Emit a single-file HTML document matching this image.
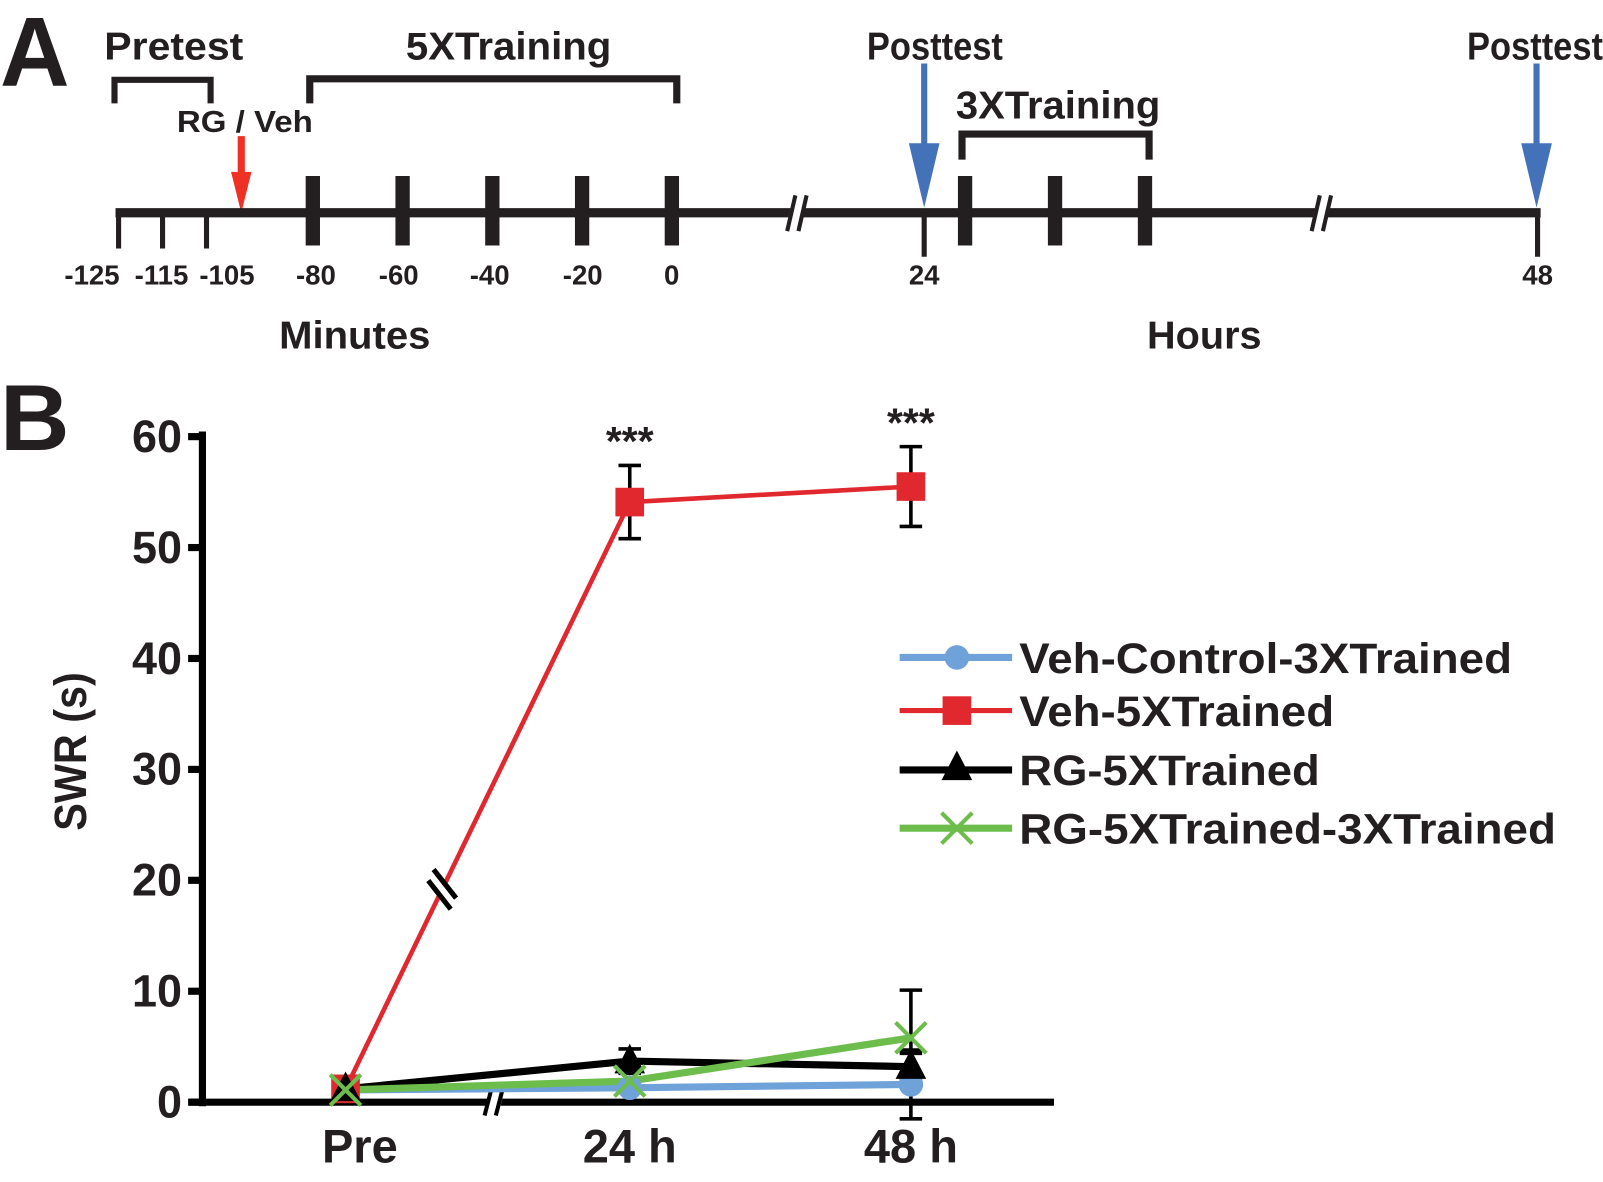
<!DOCTYPE html>
<html><head><meta charset="utf-8"><style>
html,body{margin:0;padding:0;background:#fff;}
svg{display:block;}
text{font-family:"Liberation Sans",sans-serif;font-weight:bold;fill:#231f20;}
</style></head><body>
<svg id="fig" width="1603" height="1182" viewBox="0 0 1568 1156">
<g id="panelA">
<text x="0" y="84" font-size="96" textLength="68" lengthAdjust="spacingAndGlyphs">A</text>
<text x="102" y="58" font-size="38" textLength="136" lengthAdjust="spacingAndGlyphs">Pretest</text>
<path d="M112,101 V78 H206 V101" fill="none" stroke="#231f20" stroke-width="6"/>
<text x="397" y="58" font-size="38" textLength="201" lengthAdjust="spacingAndGlyphs">5XTraining</text>
<path d="M303,101 V77 H662 V101" fill="none" stroke="#231f20" stroke-width="7"/>
<text x="173" y="129" font-size="30" textLength="133" lengthAdjust="spacingAndGlyphs">RG / Veh</text>
<line x1="236" y1="133" x2="236" y2="175" stroke="#ee3124" stroke-width="7"/>
<polygon points="226,168 246,168 236,208" fill="#ee3124"/>
<text x="848" y="58" font-size="38" textLength="133" lengthAdjust="spacingAndGlyphs">Posttest</text>
<line x1="904" y1="62" x2="904" y2="160" stroke="#4472b8" stroke-width="6"/>
<polygon points="889,140 919,140 904,203" fill="#4472b8"/>
<text x="935" y="116" font-size="38" textLength="200" lengthAdjust="spacingAndGlyphs">3XTraining</text>
<path d="M941,156 V131 H1124 V156" fill="none" stroke="#231f20" stroke-width="7"/>
<text x="1435" y="58" font-size="38" textLength="133" lengthAdjust="spacingAndGlyphs">Posttest</text>
<line x1="1503" y1="62" x2="1503" y2="160" stroke="#4472b8" stroke-width="6"/>
<polygon points="1488,140 1518,140 1503,203" fill="#4472b8"/>
<line x1="113" y1="208" x2="1507" y2="208" stroke="#231f20" stroke-width="9"/>
<g id="aTicks"></g>
<g fill="#fff" stroke="#231f20" stroke-width="4">
<polygon points="768,226 776,192 788,192 780,226" stroke="none"/>
<line x1="770" y1="226" x2="778" y2="191"/><line x1="781" y1="226" x2="789" y2="191"/>
<polygon points="1281,226 1289,192 1301,192 1293,226" stroke="none"/>
<line x1="1283" y1="226" x2="1291" y2="191"/><line x1="1294" y1="226" x2="1302" y2="191"/>
</g>
<text x="347" y="341" font-size="38" text-anchor="middle" textLength="148" lengthAdjust="spacingAndGlyphs">Minutes</text>
<text x="1178" y="341" font-size="38" text-anchor="middle" textLength="112" lengthAdjust="spacingAndGlyphs">Hours</text>
</g>
<g id="panelB">
<text x="0" y="440" font-size="92" textLength="68" lengthAdjust="spacingAndGlyphs">B</text>
<text transform="translate(84,735) rotate(-90)" font-size="44" text-anchor="middle" textLength="155" lengthAdjust="spacingAndGlyphs">SWR (s)</text>
<g id="yAxis"></g>
<g id="xAxis"></g>
<g id="series"></g>
<g id="legend"></g>
</g>
</svg>
<script>
const NS='http://www.w3.org/2000/svg';
const categories=['Pre','24 h','48 h'];
const yTicks=[0,10,20,30,40,50,60];
const seriesNames=['Veh-Control-3XTrained','Veh-5XTrained','RG-5XTrained','RG-5XTrained-3XTrained'];
const blueVals=[1.1,1.3,1.6];
const redVals=[1.2,54.1,55.5];
const blackVals=[1.2,3.7,3.2];
const greenVals=[1.1,1.9,5.8];
const redErr=[0,3.3,3.6];
const blackErr=[0,1.1,1.2];
const greenErr=[0,0,4.3];
const blueErr=[0,0,3.1];
const sigLabels=['','***','***'];
const minuteLabels=['-125','-115','-105','-80','-60','-40','-20','0'];
const minuteValues=[-125,-115,-105,-80,-60,-40,-20,0];
const hourLabels=['24','48'];

function mk(tag,attrs,parent){const e=document.createElementNS(NS,tag);for(const k in attrs)e.setAttribute(k,attrs[k]);parent.appendChild(e);return e;}
const aT=document.getElementById('aTicks');
const tx=v=>v<=-105?116+(v+125)*4.3:306+(v+80)*4.39;
minuteValues.forEach((v,i)=>{
  const x=tx(v);
  const thick=v>=-80;
  const l=mk('line',{x1:x,x2:x,y1:thick?172:208,y2:thick?240:243,stroke:'#231f20','stroke-width':thick?14:5},aT);
  
  
  const lx=[90,158,222,309,390,479,570,657][i];
  const t=mk('text',{x:lx,y:278,'font-size':27,'text-anchor':'middle'},aT);t.textContent=minuteLabels[i];
  
  
});
[944,1032,1120].forEach(x=>{const l=mk('line',{x1:x,x2:x,y1:172,y2:240,stroke:'#231f20','stroke-width':14},aT);
  
  });
[[904,0],[1504,1]].forEach(([x,i])=>{mk('line',{x1:x,x2:x,y1:208,y2:251,stroke:'#231f20','stroke-width':5},aT);
  const t=mk('text',{x:x,y:278,'font-size':27,'text-anchor':'middle'},aT);t.textContent=hourLabels[i];
  
  });

const Y=v=>1078-(v/60)*651;
const X=i=>[338,616,891][i];
const yA=document.getElementById('yAxis');
mk('line',{x1:198,x2:198,y1:422,y2:1082,stroke:'#000','stroke-width':7},yA);
yTicks.forEach(v=>{mk('line',{x1:184,x2:198,y1:Y(v),y2:Y(v),stroke:'#000','stroke-width':7},yA);
  const t=mk('text',{x:178,y:Y(v)+15,'font-size':44,'text-anchor':'end'},yA);t.textContent=v;
  
  });
const xA=document.getElementById('xAxis');
mk('line',{x1:185,x2:1031,y1:1078,y2:1078,stroke:'#000','stroke-width':7},xA);
categories.forEach((c,i)=>{const t=mk('text',{x:X(i)+([14,0,0][i]),y:1137,'font-size':46,'text-anchor':'middle'},xA);t.textContent=c;
  
  });
mk('polygon',{points:'473,1092 481,1060 495,1060 487,1092',fill:'#fff'},xA);
mk('line',{x1:474,y1:1091,x2:482,y2:1060,stroke:'#000','stroke-width':4},xA);
mk('line',{x1:485,y1:1091,x2:493,y2:1060,stroke:'#000','stroke-width':4},xA);

const S=document.getElementById('series');
function err(vals,e,i){if(!e[i])return;const x=X(i);
  mk('line',{x1:x,x2:x,y1:Y(vals[i]+e[i]),y2:Y(vals[i]-e[i]),stroke:'#000','stroke-width':3.5},S);
  mk('line',{x1:x-11,x2:x+11,y1:Y(vals[i]+e[i]),y2:Y(vals[i]+e[i]),stroke:'#000','stroke-width':3.5},S);
  mk('line',{x1:x-11,x2:x+11,y1:Y(vals[i]-e[i]),y2:Y(vals[i]-e[i]),stroke:'#000','stroke-width':3.5},S);}
function line(vals,col,w,name){const p=mk('polyline',{points:vals.map((v,i)=>X(i)+','+Y(v)).join(' '),fill:'none',stroke:col,'stroke-width':w,'stroke-linejoin':'round'},S);
  
  }
function marker(type,x,y,col,g){
  if(type==='circle')return mk('circle',{cx:x,cy:y,r:12,fill:col},g);
  if(type==='square')return mk('rect',{x:x-14,y:y-14,width:28,height:28,fill:col},g);
  if(type==='tri')return mk('polygon',{points:`${x},${y-17} ${x+15},${y+12} ${x-15},${y+12}`,fill:col},g);
  const gg=mk('g',{stroke:col,'stroke-width':4},g);
  mk('line',{x1:x-15,y1:y-15,x2:x+15,y2:y+15},gg);mk('line',{x1:x-15,y1:y+15,x2:x+15,y2:y-15},gg);return gg;}
[blueErr,redErr,blackErr,greenErr].forEach((e,k)=>{const v=[blueVals,redVals,blackVals,greenVals][k];v.forEach((_,i)=>err(v,e,i));});
line(blackVals,'#000',7,'rg-5x-line');
line(blueVals,'#6fa2d9',7,'veh-control-line');
line(greenVals,'#6cbd4c',7,'rg-5x-3x-line');
line(redVals,'#e0282e',4.5,'veh-5x-line');
const defs=[[blueVals,'circle','#6fa2d9'],[redVals,'square','#e0282e'],[blackVals,'tri','#000'],[greenVals,'x','#6cbd4c']];
defs.forEach(([v,t,c])=>v.forEach((y,i)=>{const m=marker(t,X(i),Y(y),c,S);
  
  }));
// break mark on red line
const bx=X(0)+(X(1)-X(0))*0.34, by=Y(redVals[0])+(Y(redVals[1])-Y(redVals[0]))*0.34;
const dx=(X(1)-X(0)), dy=(Y(redVals[1])-Y(redVals[0])); const dl=Math.hypot(dx,dy); const ux=dx/dl, uy=dy/dl;
const bk=mk('g',{stroke:'#000','stroke-width':5},S);


mk('line',{x1:bx-ux*4,y1:by-uy*4,x2:bx+ux*4,y2:by+uy*4,stroke:'#fff','stroke-width':7},bk);
[-6,6].forEach(o=>{const cx=bx+ux*o, cy=by+uy*o;
  mk('line',{x1:cx-11,y1:cy-14,x2:cx+11,y2:cy+14},bk);});
sigLabels.forEach((s,i)=>{if(!s)return;const t=mk('text',{x:X(i),y:Y(redVals[i]+Math.max(redErr[i],3))-10,'font-size':40,'text-anchor':'middle'},S);t.textContent=s;
  
  });
const L=document.getElementById('legend');
const ly=[643,695,753,810];
const lw=[482,308,294,525];
seriesNames.forEach((n,i)=>{const g=mk('g',{},L);
  
  
  const c=defs[i][2];
  mk('line',{x1:880,x2:990,y1:ly[i],y2:ly[i],stroke:c,'stroke-width':i==1?5:7},g);
  marker(defs[i][1],936,ly[i]+(i==2?-2:0),c,g);
  const t=mk('text',{x:997,y:ly[i]+15,'font-size':42,textLength:lw[i],lengthAdjust:'spacingAndGlyphs'},g);t.textContent=n;});
</script>
</body></html>
